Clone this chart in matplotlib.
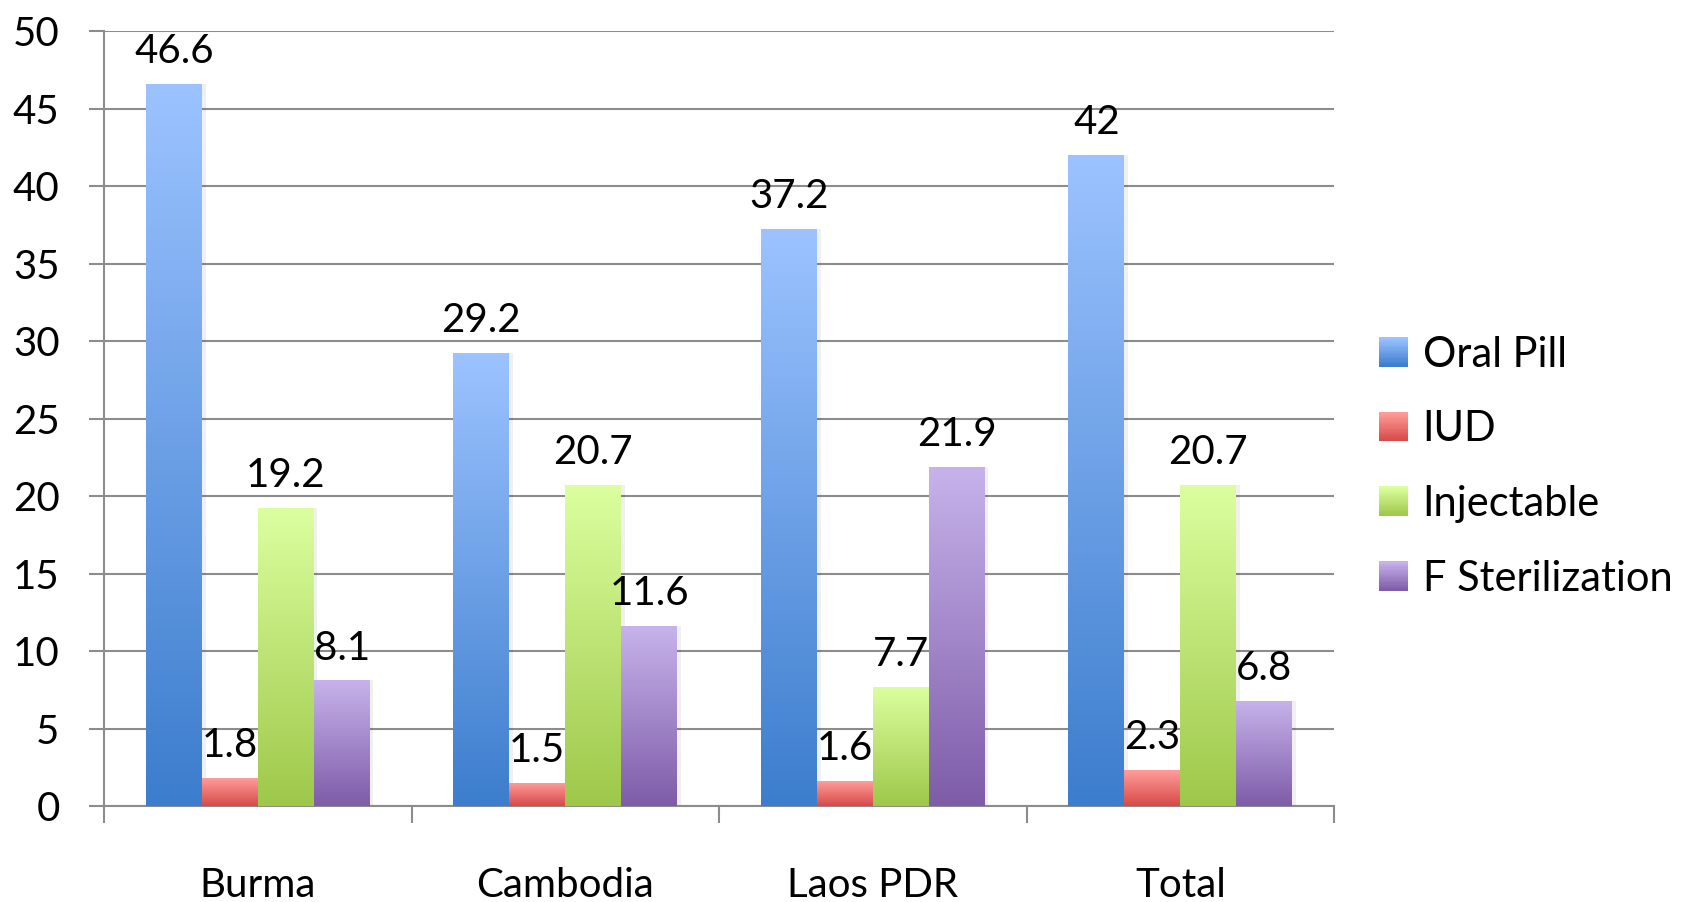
import numpy as np
import matplotlib
matplotlib.use("Agg")
import matplotlib.pyplot as plt
from matplotlib.colors import LinearSegmentedColormap
from matplotlib.patches import Rectangle
from matplotlib.legend_handler import HandlerBase

plt.rcParams['font.family'] = ['Lato', 'DejaVu Sans']

countries = ['Burma', 'Cambodia', 'Laos PDR', 'Total']
methods = ['Oral Pill', 'IUD', 'Injectable', 'F Sterilization']

oral_pill = [46.6, 29.2, 37.2, 42]
iud = [1.8, 1.5, 1.6, 2.3]
injectable = [19.2, 20.7, 7.7, 20.7]
f_sterilization = [8.1, 11.6, 21.9, 6.8]

# (top colour, bottom colour) for each series
shades = [('#9cc3ff', '#3c7dcd'),
          ('#ff9d9a', '#d64a48'),
          ('#dbff9f', '#9ec84a'),
          ('#c7b3eb', '#7e5ca8')]


class GradientHandler(HandlerBase):
    # legend key drawn as stacked strips fading from top to bottom colour
    def __init__(self, top, bottom, n=24):
        super().__init__()
        self.cmap = LinearSegmentedColormap.from_list('g', [bottom, top])
        self.n = n

    def create_artists(self, legend, orig_handle, xdescent, ydescent,
                       width, height, fontsize, trans):
        side = height * 1.0
        x0 = -xdescent + (width - side) / 2
        y0 = -ydescent + (height - side) / 2
        arts = []
        for i in range(self.n):
            r = Rectangle((x0, y0 + side * i / self.n), side, side / self.n + 0.3,
                          facecolor=self.cmap(i / (self.n - 1)), edgecolor='none',
                          transform=trans)
            arts.append(r)
        return arts


fig = plt.figure(figsize=(16.87, 9.02), dpi=100)
ax = fig.add_axes([0.0617, 0.1064, 0.7291, 0.8592])

series = [oral_pill, iud, injectable, f_sterilization]
x = np.arange(len(countries))
w = 0.182
offsets = (np.arange(4) - 1.5) * w

grad = np.linspace(0, 1, 256).reshape(-1, 1)
handles = []
for k, vals in enumerate(series):
    top, bottom = shades[k]
    cmap = LinearSegmentedColormap.from_list(f'c{k}', [bottom, top])
    bars = ax.bar(x + offsets[k], vals, w, facecolor='none', edgecolor='none',
                  zorder=3, label=methods[k])
    for b, v in zip(bars, vals):
        bx = b.get_x()
        # soft shadow on the right side
        ax.add_patch(Rectangle((bx + w, 0), 0.012, v, facecolor='#000000',
                               alpha=0.06, edgecolor='none', zorder=2))
        im = ax.imshow(grad, cmap=cmap, aspect='auto', origin='lower',
                       extent=(bx, bx + w, 0, v), zorder=3)
        im.set_clip_path(b)
        ax.text(bx + w / 2, v + 0.9, f'{v:g}', ha='center', va='bottom',
                fontsize=29, color='black', zorder=5)
    handles.append(bars)

ax.set_xlim(-0.5, 3.5)
ax.set_ylim(0, 50)
ax.set_yticks(range(0, 51, 5))
ax.set_xticks(np.arange(-0.5, 4, 1))
ax.set_xticklabels([])
ax.set_xticks(x, minor=True)
ax.set_xticklabels(countries, minor=True)

ax.yaxis.grid(True, color='#8c8c8c', linewidth=1.5, zorder=0)
ax.set_axisbelow(True)
for s in ['top', 'right']:
    ax.spines[s].set_visible(False)
for s in ['left', 'bottom']:
    ax.spines[s].set_color('#8c8c8c')
    ax.spines[s].set_linewidth(1.5)

ax.tick_params(axis='y', which='major', length=11, width=1.5, color='#8c8c8c',
               labelsize=29, pad=21)
ax.tick_params(axis='x', which='major', length=12, width=1.5, color='#8c8c8c')
ax.tick_params(axis='x', which='minor', length=0, labelsize=29, pad=44)

leg = ax.legend(handles, methods, loc='center left', bbox_to_anchor=(1.006, 0.438),
                frameon=False, fontsize=30, labelspacing=0.88,
                handlelength=0.7, handleheight=0.7, handletextpad=0.35,
                handler_map={h: GradientHandler(*shades[i]) for i, h in enumerate(handles)})

fig.savefig('out.png', dpi=100)
